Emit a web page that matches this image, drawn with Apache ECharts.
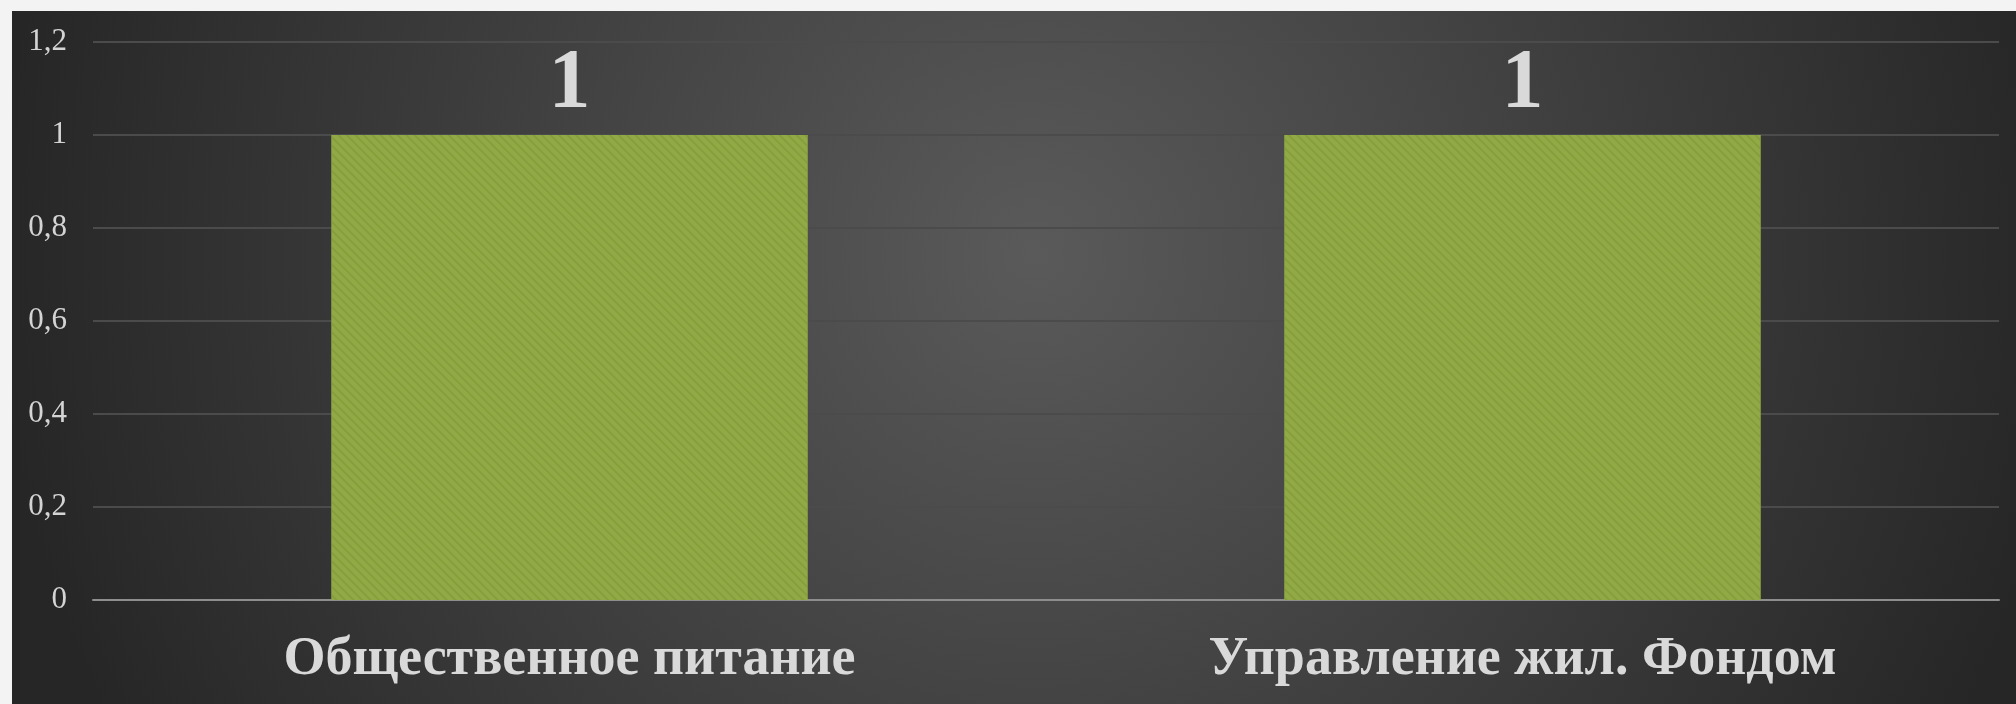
<!DOCTYPE html>
<html>
<head>
<meta charset="utf-8">
<script src="https://cdn.jsdelivr.net/npm/echarts@6/dist/echarts.min.js"></script>
<style>
  html, body { margin: 0; padding: 0; width: 2016px; height: 704px; background: #f3f3f3; overflow: hidden; }
  #chart { position: absolute; left: 12px; top: 11px; width: 2004px; height: 693px; }
</style>
</head>
<body>
<div id="chart"></div>
<script>
const categories = ['Общественное питание', 'Управление жил. Фондом'];
const values = [1, 1];
const yTickValues = [0, 0.2, 0.4, 0.6, 0.8, 1, 1.2];
const yTickLabels = ['0', '0,2', '0,4', '0,6', '0,8', '1', '1,2'];

const chart = echarts.init(document.getElementById('chart'), null, { renderer: 'canvas' });
const serif = '"Liberation Serif", "DejaVu Serif", serif';
chart.setOption({
  backgroundColor: {
    type: 'radial', x: 0.51, y: 0.35, r: 1.5,
    colorStops: [
      { offset: 0, color: '#5a5a5a' },
      { offset: 1, color: '#262626' }
    ]
  },
  animation: false,
  grid: { left: 81, right: 17, top: 31, bottom: 104, containLabel: false },
  xAxis: {
    type: 'category',
    data: categories,
    axisLine: { lineStyle: { color: '#8e8e8e', width: 2 } },
    axisTick: { show: false },
    axisLabel: {
      color: '#d9d9d9', fontFamily: serif, fontWeight: 'bold', fontSize: 54, margin: 33
    },
    splitLine: { show: false }
  },
  yAxis: {
    type: 'value',
    min: 0, max: 1.2, interval: 0.2,
    axisLine: { show: false },
    axisTick: { show: false },
    axisLabel: {
      color: '#d4d4d4', fontFamily: serif, fontSize: 31, margin: 26,
      formatter: function (v) {
        const i = yTickValues.findIndex(t => Math.abs(t - v) < 1e-6);
        return i >= 0 ? yTickLabels[i] : '';
      }
    },
    splitLine: { lineStyle: { color: '#4b4b4b', width: 2 } }
  },
  series: [{
    type: 'bar',
    data: values,
    barWidth: '50%',
    itemStyle: {
      color: '#92aa45',
      decal: {
        symbol: 'rect', symbolSize: 1,
        dashArrayX: [1, 0], dashArrayY: [2, 4],
        rotation: Math.PI / 4,
        color: 'rgba(120,145,50,0.45)'
      }
    },
    label: {
      show: true, position: 'top', distance: 8,
      color: '#d9d9d9', fontFamily: serif, fontWeight: 'bold', fontSize: 84
    }
  }]
});
</script>
</body>
</html>
